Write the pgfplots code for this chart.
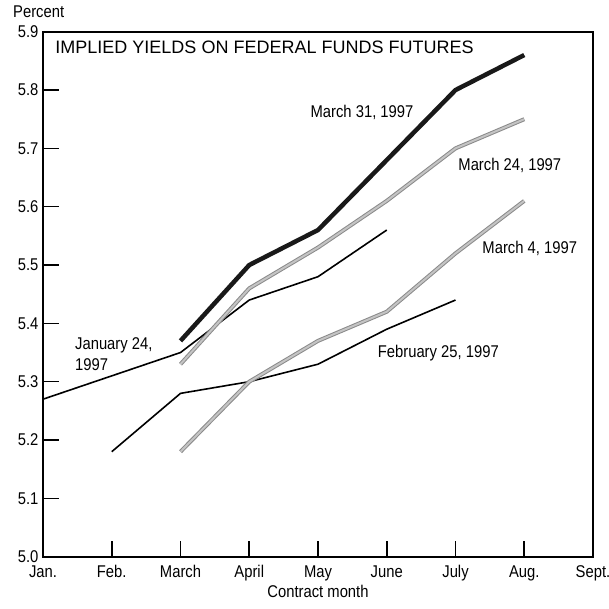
\documentclass[border=0pt]{standalone}
\usepackage{pgfplots}
\pgfplotsset{compat=1.18}
\usepackage{fontspec}
\setmainfont{Liberation Sans}
\newfontfamily\narrow[FakeStretch=0.87]{Liberation Sans}
\definecolor{gline}{HTML}{8A8A8A}
\definecolor{gfill}{HTML}{C4C4C4}
\begin{document}
\begin{tikzpicture}
\begin{axis}[
  name=ax,
  scale only axis,
  width=550pt, height=525pt,
  xmin=0, xmax=8, ymin=5.0, ymax=5.9,
  xtick={0,1,2,3,4,5,6,7,8},
  xticklabels={Jan.,Feb.,March,April,May,June,July,Aug.,Sept.},
  ytick={5.0,5.1,5.2,5.3,5.4,5.5,5.6,5.7,5.8,5.9},
  yticklabels={5.0,5.1,5.2,5.3,5.4,5.5,5.6,5.7,5.8,5.9},
  xtick pos=bottom, ytick pos=left,
  tick align=inside,
  major tick length=16pt,
  tickwidth=16pt,
  every tick/.style={black, line width=1.6pt},
  axis line style={line width=1.8pt},
  ticklabel style={font=\narrow\fontsize{17pt}{18pt}\selectfont},
  xticklabel style={yshift=-5pt, text height=12.5pt, text depth=3.5pt},
  yticklabel style={xshift=-1pt},
  xlabel={Contract month},
  xlabel style={font=\narrow\fontsize{17pt}{18pt}\selectfont, yshift=3pt},
  clip=false,
]
% January 24, 1997
\addplot[black, line width=1.6pt] coordinates {(0,5.27) (1,5.31) (2,5.35) (3,5.44) (4,5.48) (5,5.56)};
% February 25, 1997
\addplot[black, line width=1.6pt] coordinates {(1,5.18) (2,5.28) (3,5.30) (4,5.33) (5,5.39) (6,5.44)};
% March 4, 1997
\addplot[gline, line width=4pt, postaction={draw=gfill, line width=2pt}] coordinates {(2,5.18) (3,5.30) (4,5.37) (5,5.42) (6,5.52) (7,5.61)};
% March 24, 1997
\addplot[gline, line width=4pt, postaction={draw=gfill, line width=2pt}] coordinates {(2,5.33) (3,5.46) (4,5.53) (5,5.61) (6,5.70) (7,5.75)};
% March 31, 1997
\addplot[black!90, line width=4.5pt] coordinates {(2,5.37) (3,5.50) (4,5.56) (5,5.68) (6,5.80) (7,5.86)};

\node[anchor=west, font=\fontsize{18pt}{19pt}\selectfont] at (axis cs:0.13,5.874) {IMPLIED YIELDS ON FEDERAL FUNDS FUTURES};
\node[font=\narrow\fontsize{17pt}{18pt}\selectfont] at (axis cs:4.64,5.762) {March 31, 1997};
\node[font=\narrow\fontsize{17pt}{18pt}\selectfont] at (axis cs:6.79,5.671) {March 24, 1997};
\node[font=\narrow\fontsize{17pt}{18pt}\selectfont] at (axis cs:7.08,5.529) {March 4, 1997};
\node[font=\narrow\fontsize{17pt}{18pt}\selectfont] at (axis cs:5.75,5.349) {February 25, 1997};
\node[anchor=west, align=left, font=\narrow\fontsize{17pt}{21pt}\selectfont, inner sep=0pt] at (axis cs:0.465,5.348) {January 24,\\1997};
\node[anchor=west, font=\narrow\fontsize{17pt}{18pt}\selectfont, inner sep=0pt] at ([shift={(-30pt,20pt)}]rel axis cs:0,1) {Percent};
\end{axis}
\pgfresetboundingbox
\path[use as bounding box] ([shift={(-43pt,-52.3pt)}]ax.south west) rectangle ([shift={(16pt,31.7pt)}]ax.north east);
\end{tikzpicture}
\end{document}
